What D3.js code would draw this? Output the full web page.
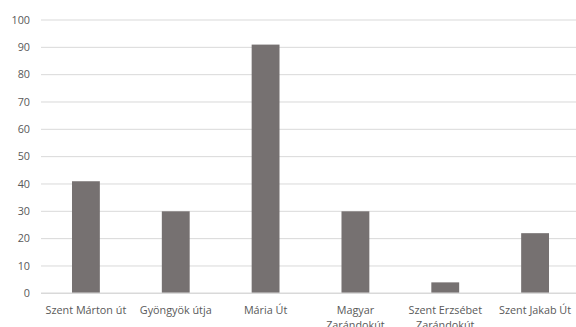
<!DOCTYPE html>
<html><head><meta charset="utf-8">
<script src="https://cdn.jsdelivr.net/npm/d3@7"></script>
<style>body{margin:0;background:#fff;overflow:hidden}svg{display:block}</style>
</head><body>
<script>
const categories = [["Szent Márton út"],["Gyöngyök útja"],["Mária Út"],["Magyar","Zarándokút"],["Szent Erzsébet","Zarándokút"],["Szent Jakab Út"]];
const values = [41, 30, 91, 30, 4, 22];
const yTicks = [0,10,20,30,40,50,60,70,80,90,100];

(function(){
const W = 576, H = 327;
const svg = d3.select("body").append("svg").attr("width", W).attr("height", H);
const mLeft = 41, mRight = 580, mTop = 20, mBottom = 293.3;
const x = d3.scaleBand().domain(d3.range(categories.length)).range([mLeft, mRight]).paddingInner(0.69).paddingOuter(0.345);
const y = d3.scaleLinear().domain([0, 100]).range([mBottom, mTop]);

const font = "'Open Sans', sans-serif";
svg.append("g").selectAll("line").data(yTicks.filter(d => d > 0)).join("line")
  .attr("x1", mLeft).attr("x2", mRight)
  .attr("y1", d => y(d)).attr("y2", d => y(d))
  .attr("stroke", "#d9d9d9").attr("stroke-width", 1);
svg.append("g").selectAll("text").data(yTicks).join("text")
  .attr("x", 30).attr("y", d => y(d)).attr("dy", "0.35em")
  .attr("text-anchor", "end").attr("font-family", font).attr("font-size", 10.8)
  .attr("fill", "#595959").text(d => d);
svg.append("g").selectAll("rect").data(values).join("rect")
  .attr("x", (d, i) => x(i)).attr("width", x.bandwidth())
  .attr("y", d => y(d)).attr("height", d => y(0) - y(d))
  .attr("fill", "#767171");
svg.append("line").attr("x1", mLeft).attr("x2", mRight).attr("y1", y(0)).attr("y2", y(0))
  .attr("stroke", "#d9d9d9").attr("stroke-width", 1.5);
const cl = svg.append("g").selectAll("text").data(categories).join("text")
  .attr("x", (d, i) => x(i) + x.bandwidth() / 2).attr("y", 314)
  .attr("text-anchor", "middle").attr("font-family", font).attr("font-size", 10.8)
  .attr("fill", "#595959");
cl.selectAll("tspan").data(d => d).join("tspan")
  .attr("x", function() { return d3.select(this.parentNode).attr("x"); })
  .attr("dy", (d, i) => i === 0 ? 0 : 15).text(d => d);
})();
</script>
</body></html>
